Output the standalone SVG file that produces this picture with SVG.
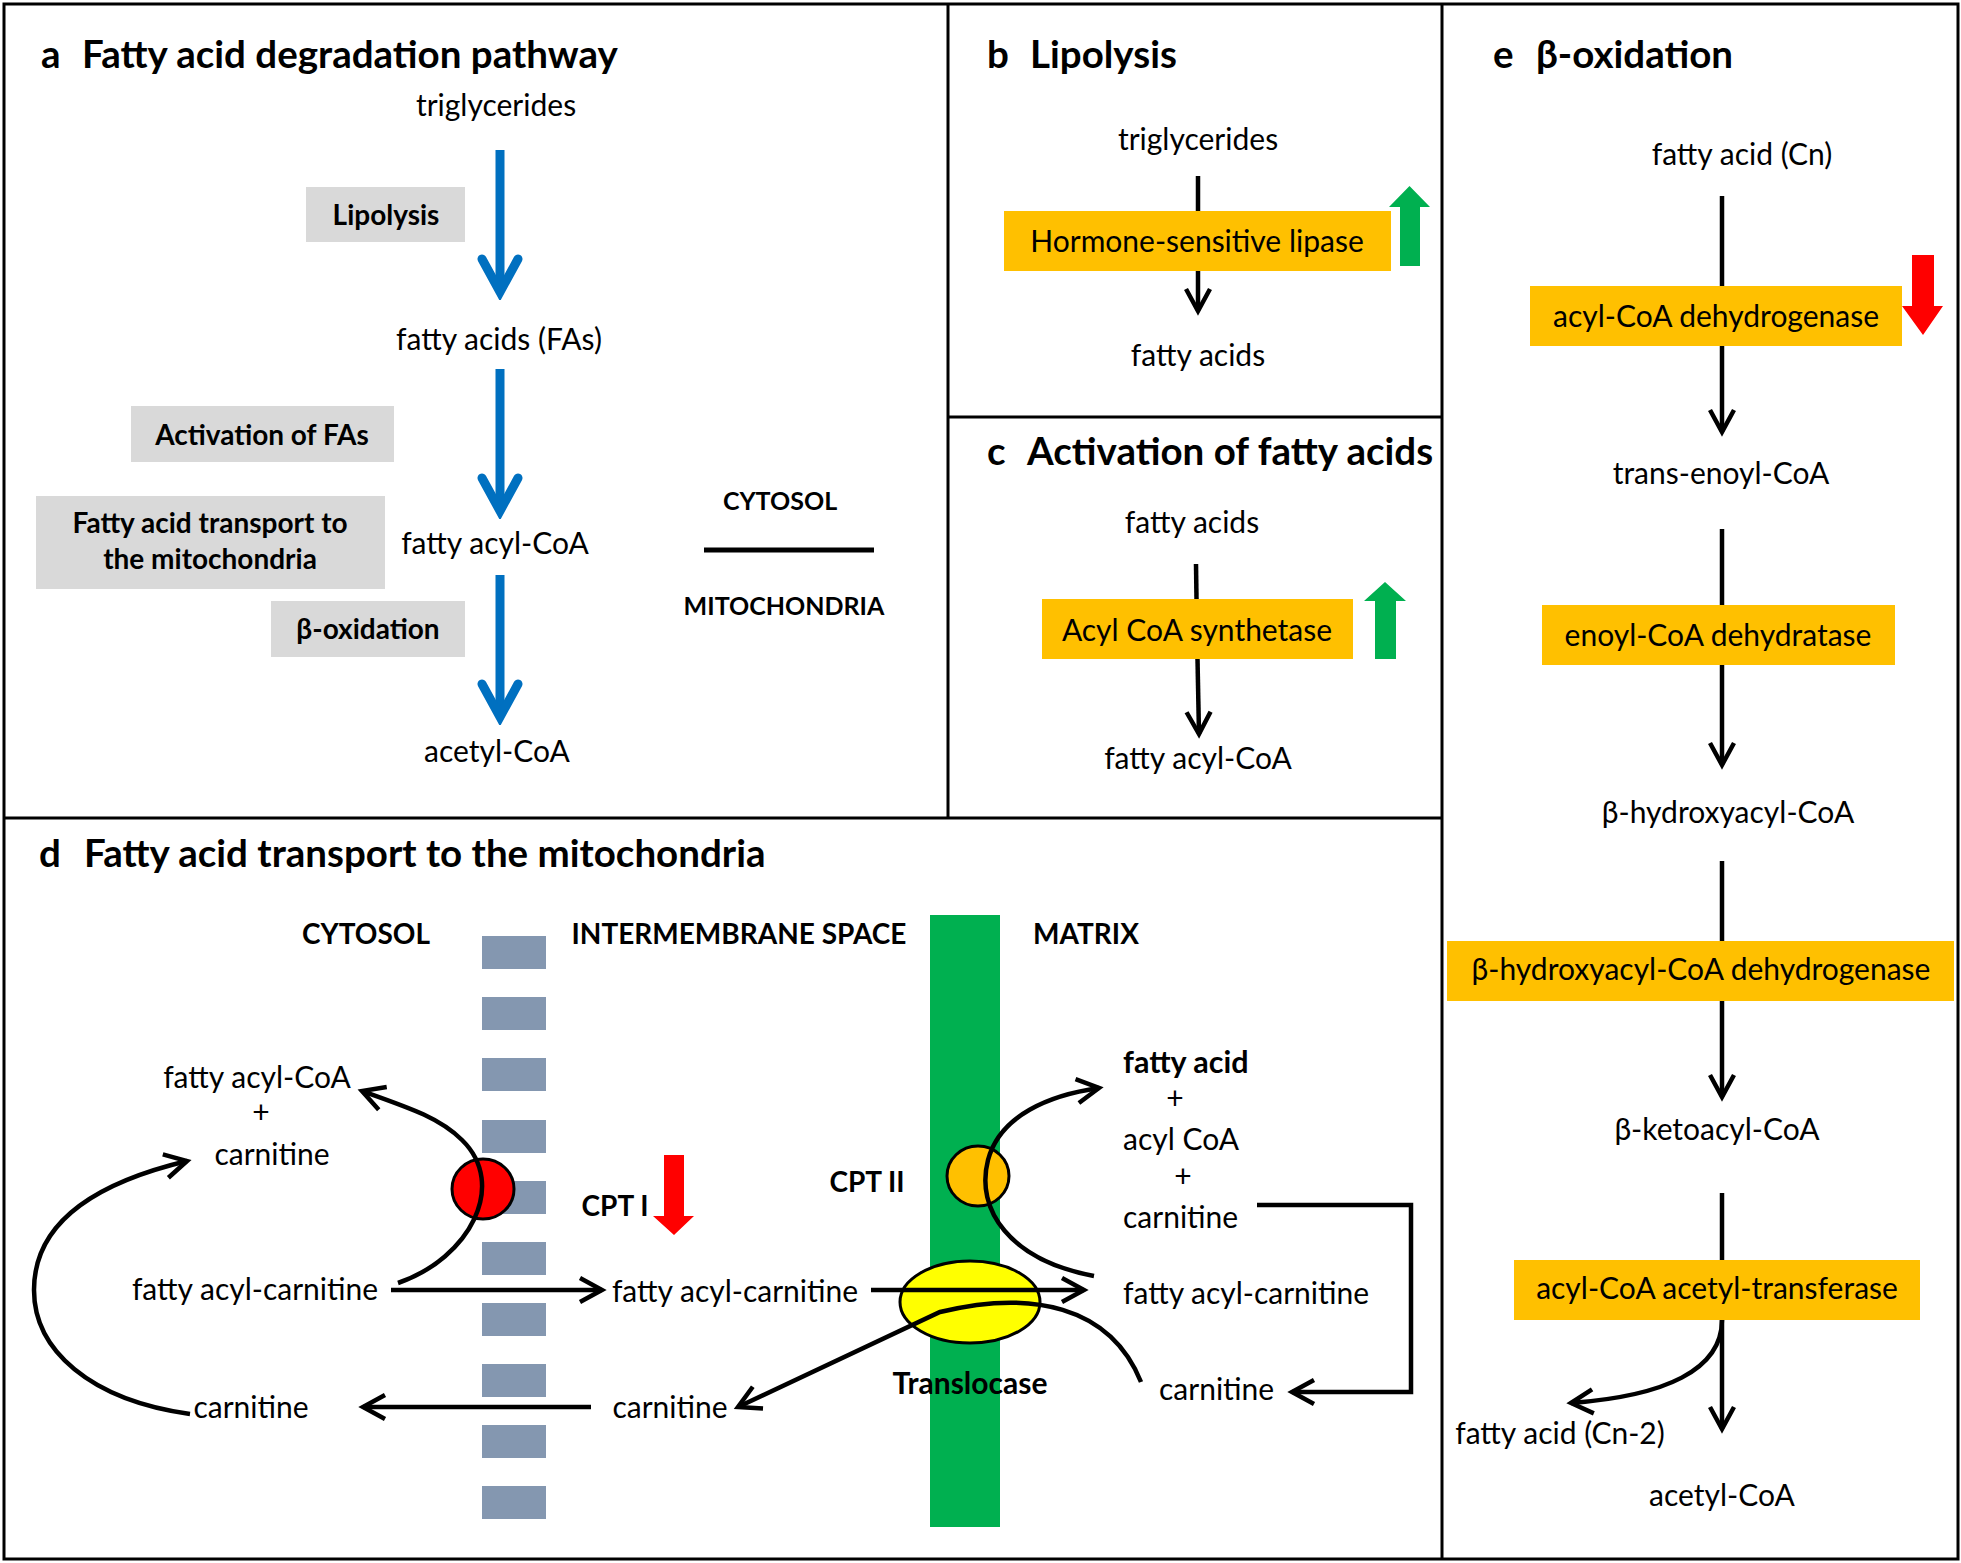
<svg xmlns="http://www.w3.org/2000/svg" width="1961" height="1563" viewBox="0 0 1961 1563">
<style>
text{font-family:Lato,"Liberation Sans",sans-serif;fill:#000}
.t{font-size:30px}
.tm{font-size:30px;text-anchor:middle}
.b{font-size:28px;font-weight:bold;text-anchor:middle}
.bs{font-size:25px;font-weight:bold;text-anchor:middle}
.h{font-size:38.5px;font-weight:bold}
.gray{fill:#D9D9D9}
.or{fill:#FFC000}
.frame{fill:none;stroke:#000;stroke-width:3}
.ln{fill:none;stroke:#000;stroke-width:4.5}
.blue{fill:none;stroke:#0070C0;stroke-width:9}
.mem{fill:#8497B0}
</style>
<defs>
<marker id="ah" viewBox="-30 -18 36 36" refX="0" refY="0" markerWidth="36" markerHeight="36" markerUnits="userSpaceOnUse" orient="auto">
<path d="M-22,-12 L0,0 L-22,12" fill="none" stroke="#000" stroke-width="4.5"/>
</marker>
<marker id="bh" viewBox="-44 -26 52 52" refX="0" refY="0" markerWidth="52" markerHeight="52" markerUnits="userSpaceOnUse" orient="auto">
<path d="M-33,-18 L0,0 L-33,18" fill="none" stroke="#0070C0" stroke-width="9" stroke-linecap="round"/>
</marker>
</defs>
<rect width="1961" height="1563" fill="#fff"/>

<g id="frames">
<rect class="frame" x="4" y="4" width="1954" height="1555"/>
<line class="frame" x1="948" y1="4" x2="948" y2="818"/>
<line class="frame" x1="4" y1="818" x2="1442" y2="818"/>
<line class="frame" x1="1442" y1="4" x2="1442" y2="1559"/>
<line class="frame" x1="948" y1="417" x2="1442" y2="417"/>
</g>

<g id="panel-a">
<text class="h" y="68"><tspan x="41">a</tspan><tspan x="82">Fatty acid degradation pathway</tspan></text>
<g id="a-triglycerides"><text class="tm" x="496" y="116">triglycerides</text></g>
<g id="a-fattyacids"><text class="tm" x="499" y="350">fatty acids (FAs)</text></g>
<g id="a-fattyacylcoa"><text class="tm" x="495" y="554">fatty acyl-CoA</text></g>
<g id="a-acetylcoa"><text class="tm" x="497" y="762">acetyl-CoA</text></g>
<g id="a-lipolysis"><rect class="gray" x="306" y="187" width="159" height="55"/><text class="b" x="386" y="225">Lipolysis</text></g>
<g id="a-activation"><rect class="gray" x="131" y="406" width="263" height="56"/><text class="b" x="262" y="445">Activation of FAs</text></g>
<g id="a-transport"><rect class="gray" x="36" y="496" width="349" height="93"/><text class="b" x="210" y="533">Fatty acid transport to</text><text class="b" x="210" y="569">the mitochondria</text></g>
<g id="a-betaox"><rect class="gray" x="271" y="601" width="194" height="56"/><text class="b" x="368" y="639">β-oxidation</text></g>
<g id="a-compartments"><text class="bs" x="780" y="510">CYTOSOL</text><line x1="704" y1="550" x2="874" y2="550" stroke="#000" stroke-width="5"/><text class="bs" x="784" y="615">MITOCHONDRIA</text></g>
</g>

<g id="panel-b">
<text class="h" y="68"><tspan x="987">b</tspan><tspan x="1030">Lipolysis</tspan></text>
<g id="b-triglycerides"><text class="tm" x="1198" y="150">triglycerides</text></g>
<g id="b-fattyacids"><text class="tm" x="1198" y="366">fatty acids</text></g>
</g>

<g id="panel-c">
<text class="h" y="465"><tspan x="987">c</tspan><tspan x="1027">Activation of fatty acids</tspan></text>
<g id="c-fattyacids"><text class="tm" x="1192" y="533">fatty acids</text></g>
<g id="c-fattyacylcoa"><text class="tm" x="1198" y="769">fatty acyl-CoA</text></g>
</g>

<g id="panel-e">
<text class="h" y="68"><tspan x="1493">e</tspan><tspan x="1536">β-oxidation</tspan></text>
<g id="e-fa"><text class="tm" x="1742" y="165">fatty acid (Cn)</text></g>
<g id="e-trans"><text class="tm" x="1721" y="484">trans-enoyl-CoA</text></g>
<g id="e-hydroxy"><text class="tm" x="1728" y="823">β-hydroxyacyl-CoA</text></g>
<g id="e-keto"><text class="tm" x="1717" y="1140">β-ketoacyl-CoA</text></g>
<g id="e-fa2"><text class="tm" x="1560" y="1444">fatty acid (Cn-2)</text></g>
<g id="e-acetyl"><text class="tm" x="1722" y="1506">acetyl-CoA</text></g>
</g>

<g id="panel-d">
<text class="h" y="867"><tspan x="39">d</tspan><tspan x="84">Fatty acid transport to the mitochondria</tspan></text>
<g id="d-labels">
<text class="b" x="366" y="944">CYTOSOL</text>
<text class="b" x="739" y="944">INTERMEMBRANE SPACE</text>
<text class="b" x="1086" y="944">MATRIX</text>
</g>
<g id="d-outer-membrane">
<rect class="mem" x="482" y="936" width="64" height="33"/>
<rect class="mem" x="482" y="997" width="64" height="33"/>
<rect class="mem" x="482" y="1058" width="64" height="33"/>
<rect class="mem" x="482" y="1120" width="64" height="33"/>
<rect class="mem" x="482" y="1181" width="64" height="33"/>
<rect class="mem" x="482" y="1242" width="64" height="33"/>
<rect class="mem" x="482" y="1303" width="64" height="33"/>
<rect class="mem" x="482" y="1364" width="64" height="33"/>
<rect class="mem" x="482" y="1425" width="64" height="33"/>
<rect class="mem" x="482" y="1486" width="64" height="33"/>
</g>
<g id="d-inner-membrane"><rect x="930" y="915" width="70" height="612" fill="#00B050"/></g>
<g id="d-cpt1"><ellipse cx="483" cy="1189" rx="31" ry="30" fill="#FF0000" stroke="#000" stroke-width="3"/><text class="b" x="615" y="1216">CPT I</text></g>
<g id="d-cpt2"><ellipse cx="978" cy="1176" rx="31" ry="30" fill="#FFC000" stroke="#000" stroke-width="3"/><text class="b" x="867" y="1192">CPT II</text></g>
<g id="d-translocase"><ellipse cx="970" cy="1302" rx="70" ry="41" fill="#FFFF00" stroke="#000" stroke-width="3"/><text class="b" x="970" y="1394" style="font-size:30px">Translocase</text></g>
<g id="d-facoa"><text class="tm" x="257" y="1088">fatty acyl-CoA</text><text class="tm" x="261" y="1123">+</text><text class="tm" x="272" y="1165">carnitine</text></g>
<g id="d-fac-cyt"><text class="tm" x="255" y="1300">fatty acyl-carnitine</text></g>
<g id="d-carn-cyt"><text class="tm" x="251" y="1418">carnitine</text></g>
<g id="d-fac-ims"><text class="tm" x="735" y="1302">fatty acyl-carnitine</text></g>
<g id="d-carn-ims"><text class="tm" x="670" y="1418">carnitine</text></g>
<g id="d-products">
<text x="1123" y="1073" style="font-size:30.5px;font-weight:bold">fatty acid</text>
<text class="tm" x="1175" y="1109">+</text>
<text class="t" x="1123" y="1150">acyl CoA</text>
<text class="tm" x="1183" y="1187">+</text>
<text class="t" x="1123" y="1228">carnitine</text>
</g>
<g id="d-fac-mat"><text class="t" x="1123" y="1304">fatty acyl-carnitine</text></g>
<g id="d-carn-mat"><text class="t" x="1159" y="1400">carnitine</text></g>
</g>

<g id="enzymes">
<g id="b-hsl"><rect class="or" x="1004" y="211" width="387" height="60"/><text class="tm" x="1197" y="252">Hormone-sensitive lipase</text></g>
<g id="c-acs"><rect class="or" x="1042" y="599" width="311" height="60"/><text class="tm" x="1197" y="641">Acyl CoA synthetase</text></g>
<g id="e-acd"><rect class="or" x="1530" y="286" width="372" height="60"/><text class="tm" x="1716" y="327">acyl-CoA dehydrogenase</text></g>
<g id="e-ecd"><rect class="or" x="1542" y="605" width="353" height="60"/><text class="tm" x="1718" y="646">enoyl-CoA dehydratase</text></g>
<g id="e-hcd"><rect class="or" x="1447" y="941" width="507" height="60"/><text class="tm" x="1701" y="980">β-hydroxyacyl-CoA dehydrogenase</text></g>
<g id="e-acat"><rect class="or" x="1514" y="1260" width="406" height="60"/><text class="tm" x="1717" y="1299">acyl-CoA acetyl-transferase</text></g>
</g>

<g id="regulation">
<polygon fill="#00B050" points="1400,266 1400,207 1389,207 1409.5,186 1430,207 1420,207 1420,266"/>
<polygon fill="#00B050" points="1375,659 1375,601 1364,601 1385,582 1406,601 1396,601 1396,659"/>
<polygon fill="#FF0000" points="1912,255 1934,255 1934,306 1943,306 1923,335 1902,306 1912,306"/>
<polygon fill="#FF0000" points="664,1155 684,1155 684,1216 694,1216 674,1235 653,1216 664,1216"/>
</g>

<g id="connectors">
<line class="blue" x1="500" y1="150" x2="500" y2="292" marker-end="url(#bh)"/>
<line class="blue" x1="500" y1="369" x2="500" y2="511" marker-end="url(#bh)"/>
<line class="blue" x1="500" y1="575" x2="500" y2="717" marker-end="url(#bh)"/>
<line class="ln" x1="1198" y1="176" x2="1198" y2="211"/>
<line class="ln" x1="1198" y1="271" x2="1198" y2="311" marker-end="url(#ah)"/>
<line class="ln" x1="1196" y1="564" x2="1196.5" y2="599"/>
<line class="ln" x1="1197.5" y1="659" x2="1199" y2="734" marker-end="url(#ah)"/>
<line class="ln" x1="1722" y1="196" x2="1722" y2="286"/>
<line class="ln" x1="1722" y1="346" x2="1722" y2="432" marker-end="url(#ah)"/>
<line class="ln" x1="1722" y1="529" x2="1722" y2="605"/>
<line class="ln" x1="1722" y1="665" x2="1722" y2="765" marker-end="url(#ah)"/>
<line class="ln" x1="1722" y1="861" x2="1722" y2="941"/>
<line class="ln" x1="1722" y1="1001" x2="1722" y2="1097" marker-end="url(#ah)"/>
<line class="ln" x1="1722" y1="1193" x2="1722" y2="1260"/>
<line class="ln" x1="1722" y1="1320" x2="1722" y2="1429" marker-end="url(#ah)"/>
<path class="ln" d="M1722,1320 C1722,1370 1665,1396 1571,1403" marker-end="url(#ah)"/>
<path class="ln" d="M398,1283 C470,1258 508,1185 462,1140 C440,1118 410,1108 362,1091" marker-end="url(#ah)"/>
<path class="ln" d="M190,1414 C90,1400 34,1350 34,1290 C34,1222 95,1183 187,1161" marker-end="url(#ah)"/>
<line class="ln" x1="391" y1="1290" x2="602" y2="1290" marker-end="url(#ah)"/>
<line class="ln" x1="591" y1="1407" x2="363" y2="1407" marker-end="url(#ah)"/>
<line class="ln" x1="871" y1="1290" x2="1084" y2="1290" marker-end="url(#ah)"/>
<path class="ln" d="M1141,1382 C1110,1305 1030,1290 940,1312 L738,1407" marker-end="url(#ah)"/>
<path class="ln" d="M1094,1276 C1010,1260 975,1210 988,1160 C1000,1115 1050,1095 1099,1088" marker-end="url(#ah)"/>
<polyline class="ln" points="1257,1205 1411,1205 1411,1392 1292,1392" marker-end="url(#ah)"/>
</g>
</svg>
